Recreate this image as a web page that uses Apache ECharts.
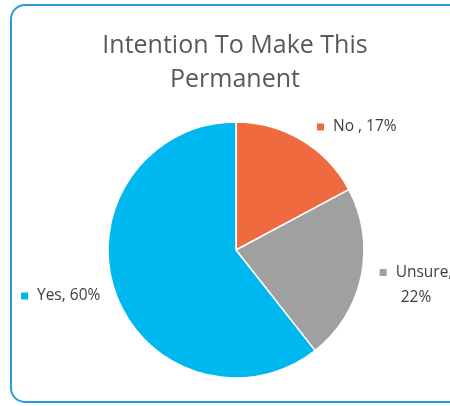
<!DOCTYPE html>
<html>
<head>
<meta charset="utf-8">
<script src="https://cdn.jsdelivr.net/npm/echarts@6/dist/echarts.min.js"></script>
<style>
  html, body { margin: 0; padding: 0; background: #fff; }
  #main { width: 450px; height: 406px; }
</style>
</head>
<body>
<div id="main"></div>
<script>
var categories = ['No', 'Unsure', 'Yes'];
var shares = [17, 22, 60];
var labelTexts = ['No , 17%', 'Unsure,\n22%', 'Yes, 60%'];
var colors = ['#EF6A3F', '#A0A0A0', '#00B8F0'];

// where each label block sits (x, y, align)
var labelSpots = [
    { x: 317, y: 127, align: 'left' },
    { x: 416, y: 285, align: 'center' },
    { x: 21, y: 296, align: 'left' }
];

var chart = echarts.init(document.getElementById('main'));

var pieData = categories.map(function (name, i) {
    var txt = labelTexts[i].split('\n');
    var fmt = '{s|}{t|' + txt[0] + '}';
    if (txt.length > 1) {
        fmt += '\n{u|' + txt[1] + '}';
    }
    return {
        name: name,
        value: shares[i],
        itemStyle: { color: colors[i] },
        label: {
            formatter: fmt,
            overflow: 'none',
            rich: {
                s: { width: 7, height: 7, backgroundColor: colors[i] },
                t: { fontSize: 15.5, color: '#404040', lineHeight: 25, fontFamily: 'Open Sans', padding: [0, 0, 0, 9] },
                // second line has no marker, so no left padding
                u: { fontSize: 15.5, color: '#404040', lineHeight: 25, fontFamily: 'Open Sans' }
            }
        }
    };
});

chart.setOption({
    animation: false,
    title: {
        text: 'Intention To Make This\nPermanent',
        left: 230,
        top: 24,
        textAlign: 'center',
        textStyle: {
            fontSize: 25,
            fontWeight: 'normal',
            color: '#595959',
            fontFamily: 'Open Sans',
            lineHeight: 34
        }
    },
    graphic: [{
        type: 'rect',
        shape: { x: 11, y: 5, width: 470, height: 397, r: 14 },
        style: { fill: 'none', stroke: '#2A9BD8', lineWidth: 2 },
        z: 100
    }],
    series: [{
        type: 'pie',
        center: [236, 250],
        radius: [0, 128],
        startAngle: 90,
        clockwise: true,
        itemStyle: { borderColor: '#fff', borderWidth: 1.5 },
        label: { show: true, position: 'outside' },
        labelLine: { show: false },
        labelLayout: function (params) {
            var p = labelSpots[params.dataIndex];
            return { x: p.x, y: p.y, align: p.align, verticalAlign: 'middle' };
        },
        data: pieData
    }]
});
</script>
</body>
</html>
